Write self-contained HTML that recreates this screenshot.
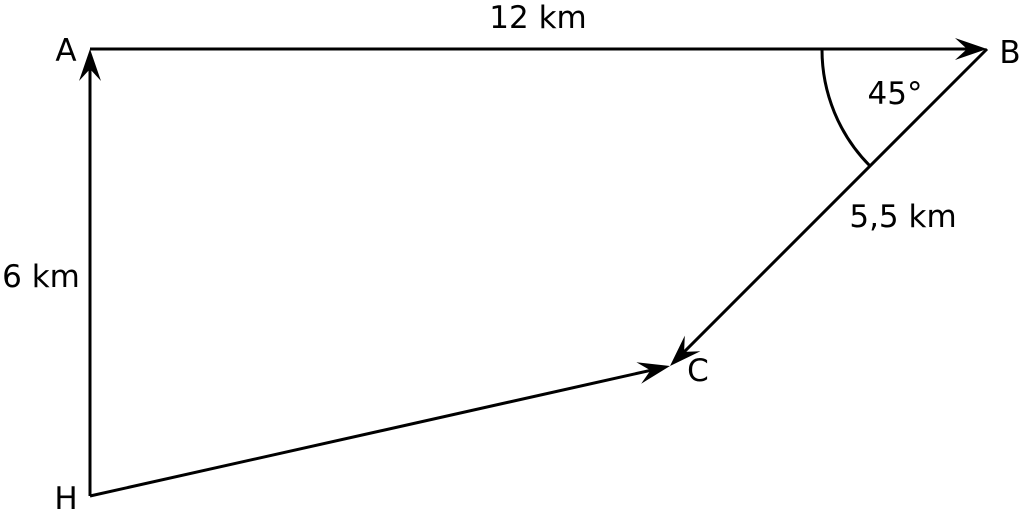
<!DOCTYPE html>
<html><head><meta charset="utf-8"><style>
html,body{margin:0;padding:0;background:#fff;}
svg{display:block;}
text{font-family:"DejaVu Sans","Liberation Sans",sans-serif;font-size:31px;fill:#000;}
</style></head><body>
<svg id="fig" width="1022" height="513" viewBox="0 0 1022 513" xmlns="http://www.w3.org/2000/svg">
<g id="segs" stroke="#000" stroke-width="3" fill="none"></g>
<path d="M822,49 A165,165 0 0 0 870,166" stroke="#000" stroke-width="3" fill="none"/>
<text x="538" y="28" text-anchor="middle">12 km</text>
<text x="66" y="61" text-anchor="middle">A</text>
<text x="1010" y="63" text-anchor="middle">B</text>
<text x="895" y="104" text-anchor="middle">45°</text>
<text x="903" y="227" text-anchor="middle">5,5 km</text>
<text x="698" y="381" text-anchor="middle">C</text>
<text x="41" y="287" text-anchor="middle">6 km</text>
<text x="66" y="509" text-anchor="middle">H</text>
</svg>
<script>
const pointNames=["A","B","C","H"];
const pointX=[90,987,670,90];
const pointY=[49,49,366,496];
const segFrom=["A","B","H","H"];
const segTo=["B","C","A","C"];
const segNames=["segment-ab","segment-bc","segment-ha","segment-hc"];
const g=document.getElementById('segs');
const NS="http://www.w3.org/2000/svg";
function P(n){const i=pointNames.indexOf(n);return [pointX[i],pointY[i]];}
segFrom.forEach((f,i)=>{
  const [x1,y1]=P(f),[x2,y2]=P(segTo[i]);
  const dx=x2-x1,dy=y2-y1,L=Math.hypot(dx,dy),ux=dx/L,uy=dy/L,nx=-uy,ny=ux;
  const ln=document.createElementNS(NS,'line');
  
  
  ln.setAttribute('x1',x1);ln.setAttribute('y1',y1);
  ln.setAttribute('x2',x2-ux*15);ln.setAttribute('y2',y2-uy*15);
  g.appendChild(ln);
  const b=32,w=11,c=20;
  const pt=(a,s)=>`${(x2-ux*a+nx*s).toFixed(1)},${(y2-uy*a+ny*s).toFixed(1)}`;
  const d=`M${x2},${y2} L${pt(b,w)} L${pt(c,0)} L${pt(b,-w)} Z`;
  const ah=document.createElementNS(NS,'path');
  
  
  ah.setAttribute('d',d);
  ah.setAttribute('fill','#000');
  ah.setAttribute('stroke','none');
  g.appendChild(ah);
});
</script>
</body></html>
